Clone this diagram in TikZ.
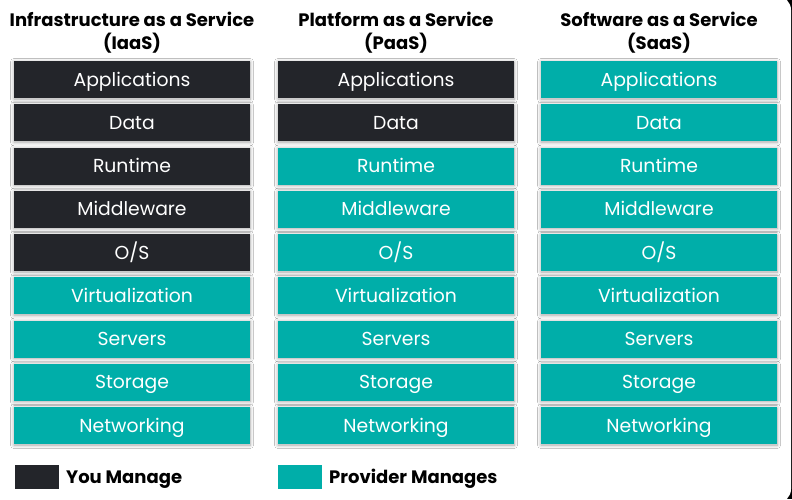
\documentclass[tikz,border=0pt]{standalone}
\usepackage{fontspec}
\setmainfont{Poppins}
\usetikzlibrary{shadows.blur}
\definecolor{youc}{HTML}{23252A}
\definecolor{provc}{HTML}{00AEA9}
\begin{document}
\begin{tikzpicture}[x=1pt,y=-1pt,
  layerbox/.style={minimum width=236pt, minimum height=37pt, inner sep=0pt,
    text=white, font=\fontsize{18.8}{22}\selectfont, text height=13pt, text depth=0pt,
    blur shadow={shadow blur steps=8, shadow xshift=0pt, shadow yshift=-1pt,
      shadow blur radius=3.5pt, shadow opacity=35}},
  you/.style={layerbox, fill=youc},
  prov/.style={layerbox, fill=provc},
  coltitle/.style={font=\bfseries\fontsize{18}{23}\selectfont, align=center, inner sep=0pt},
  legtxt/.style={font=\bfseries\fontsize{18}{20}\selectfont, anchor=west, inner sep=0pt,
    text height=13pt, text depth=0pt},
  legbox/.style={minimum width=44pt, minimum height=24pt, inner sep=0pt}]
\useasboundingbox (0,0) rectangle (792,499);
\fill[black] (0,0) rectangle (792,499);
\fill[white, rounded corners=14pt] (-20,-4) rectangle (791,503);
% titles
\node[coltitle] (t1) at (132,33) {Infrastructure as a Service\\(IaaS)};
\node[coltitle] (t2) at (396,33) {Platform as a Service\\(PaaS)};
\node[coltitle] (t3) at (659,33) {Software as a Service\\(SaaS)};
% rows
\foreach \lbl [count=\i from 0] in {Applications,Data,Runtime,Middleware,O/S,Virtualization,Servers,Storage,Networking}{
  \pgfmathsetmacro{\yy}{79.5+43.25*\i}
  \pgfmathtruncatemacro{\ra}{\i<5 ? 1 : 0}
  \pgfmathtruncatemacro{\rb}{\i<2 ? 1 : 0}
  \ifnum\ra=1 \def\sa{you}\else\def\sa{prov}\fi
  \ifnum\rb=1 \def\sb{you}\else\def\sb{prov}\fi
  \node[\sa] (a\i) at (132,\yy) {\lbl};
  \node[\sb] (b\i) at (396,\yy) {\lbl};
  \node[prov] (c\i) at (659,\yy) {\lbl};
}
% legend
\node[legbox, fill=youc] (ly) at (37,477) {};
\node[legtxt] (lyt) at (66,477) {You Manage};
\node[legbox, fill=provc] (lp) at (300,477) {};
\node[legtxt] (lpt) at (329,477) {Provider Manages};
\end{tikzpicture}
\end{document}
